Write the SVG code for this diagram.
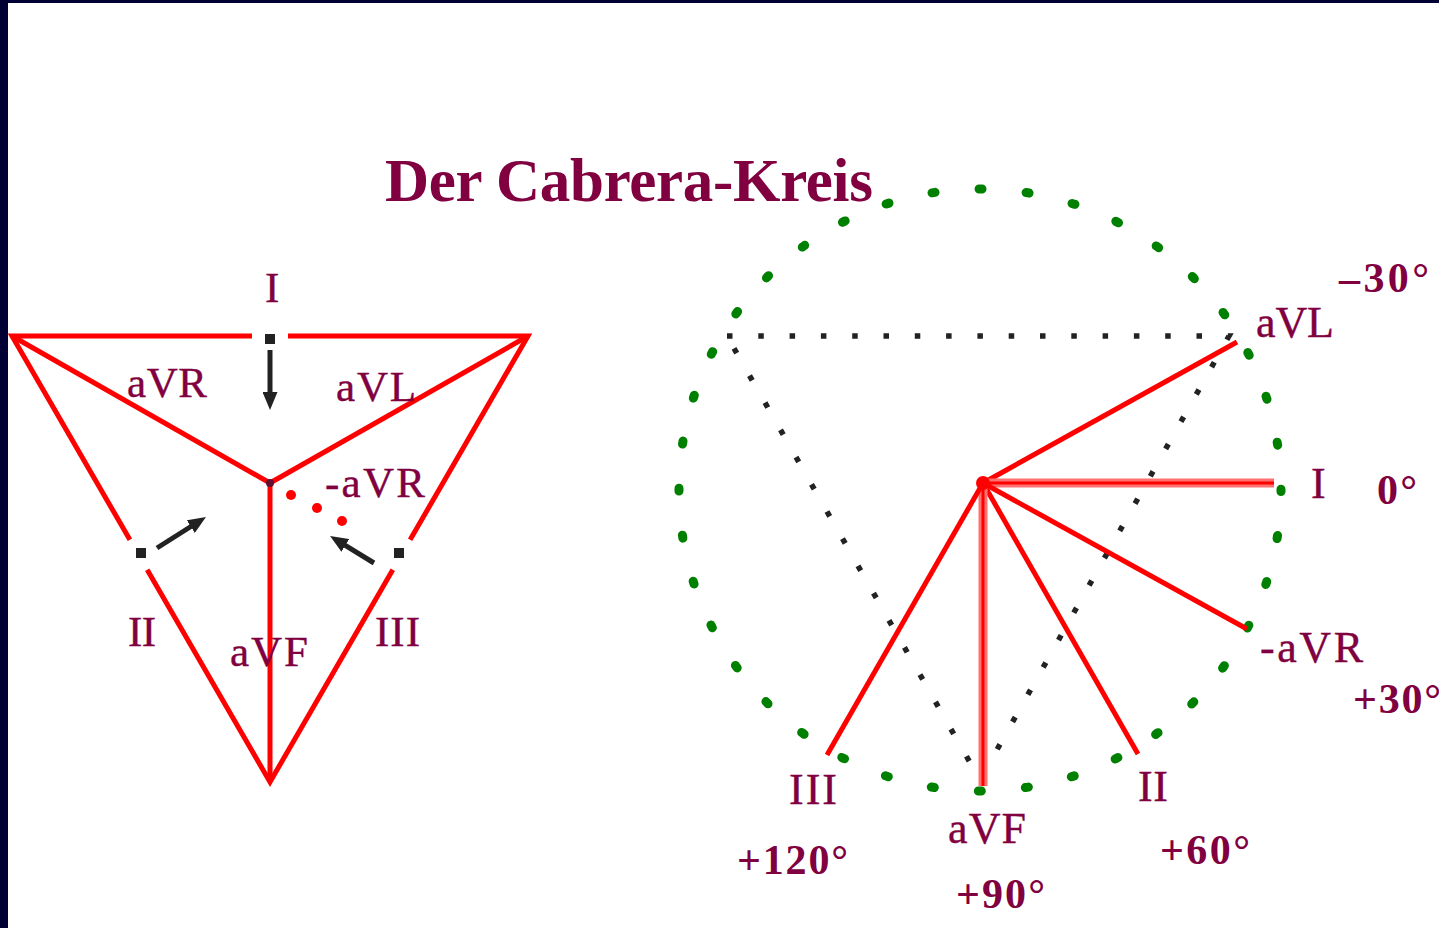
<svg xmlns="http://www.w3.org/2000/svg" width="1439" height="928" viewBox="0 0 1439 928">
<defs>
<style>
.lbl{font-family:"Liberation Serif","Times New Roman",serif;font-size:43px;fill:#800040;stroke:#800040;stroke-width:0.4}
.lblr{font-family:"Liberation Serif","Times New Roman",serif;font-size:44px;fill:#800040;stroke:#800040;stroke-width:0.4}
.deg{font-family:"Liberation Serif","Times New Roman",serif;font-size:42px;font-weight:bold;fill:#800040}
.title{font-family:"Liberation Serif","Times New Roman",serif;font-size:61px;font-weight:bold;fill:#800040}
.red{stroke:#ff0000;stroke-width:5;fill:none;stroke-linejoin:miter}
.dray{stroke:#ff7070;stroke-width:9;fill:none}
.dcore{stroke:#ff0000;stroke-width:3;fill:none}
.blk{fill:#222222}
.arrow{stroke:#222222;stroke-width:5;fill:none}
.rdot{fill:#ff0000}
.green{stroke:#008000;stroke-width:9;fill:none;stroke-linecap:round}
.bdots{stroke:#222222;stroke-width:5.5;fill:none}
</style>
<marker id="ah" viewBox="0 0 12 10" refX="2" refY="5" markerWidth="3.6" markerHeight="3" orient="auto" markerUnits="strokeWidth">
<path d="M0,0 L12,5 L0,10 z" fill="#222222"/>
</marker>
</defs>
<rect x="0" y="0" width="1439" height="928" fill="#ffffff"/>
<rect x="0" y="0" width="1439" height="3" fill="#000035"/>
<rect x="0" y="0" width="8" height="928" fill="#000035"/>

<g id="title">
<text class="title" x="385" y="201" textLength="488">Der Cabrera-Kreis</text>
</g>

<g id="einthoven-triangle">
<g id="tri-edges">
<polyline class="red" points="252,336 12,336 129.9,539.8"/>
<polyline class="red" points="288,336 528,336 410.1,539.8"/>
<polyline class="red" points="147.2,569.7 270,782 392.8,569.7"/>
</g>
<g id="tri-axes">
<line class="red" x1="12" y1="336" x2="270" y2="483"/>
<line class="red" x1="528" y1="336" x2="270" y2="483"/>
<line class="red" x1="270" y1="483" x2="270" y2="782"/>
<circle cx="270" cy="483" r="4" fill="#601030"/>
<circle class="rdot" cx="291" cy="495" r="5"/>
<circle class="rdot" cx="317" cy="508" r="5"/>
<circle class="rdot" cx="342" cy="521" r="5"/>
</g>
<g id="tri-electrodes">
<rect class="blk" x="265" y="334" width="10" height="10"/>
<rect class="blk" x="136" y="548" width="10" height="10"/>
<rect class="blk" x="394" y="548" width="10" height="10"/>
</g>
<g id="tri-labels">
<text class="lbl" x="265" y="302" textLength="13">I</text>
<text class="lbl" x="127" y="397" textLength="80">aVR</text>
<text class="lbl" x="336" y="401" textLength="80">aVL</text>
<text class="lbl" x="325" y="497" textLength="100">-aVR</text>
<text class="lbl" x="128" y="646" textLength="28">II</text>
<text class="lbl" x="230" y="666" textLength="78">aVF</text>
<text class="lbl" x="375" y="646" textLength="45">III</text>
</g>
</g>

<g id="connectors">
<line class="arrow" x1="270" y1="350" x2="270" y2="395" marker-end="url(#ah)"/>
<line class="arrow" x1="157" y1="548" x2="193.3" y2="525" marker-end="url(#ah)"/>
<line class="arrow" x1="374" y1="563" x2="342.8" y2="543.8" marker-end="url(#ah)"/>
</g>

<g id="cabrera-circle">
<circle id="circle-dots" class="green" cx="980" cy="490" r="301" stroke-dasharray="3 44.28" stroke-dashoffset="1.5"/>
<path id="dotted-triangle" class="bdots" d="M727,336 L1229,336 L980,780 Z" stroke-dasharray="5.5 25.8"/>
<g id="rays">
<line class="red" x1="983" y1="483" x2="1237" y2="342"/>
<line class="dray" x1="983" y1="483" x2="1274" y2="483"/>
<line class="dcore" x1="983" y1="483" x2="1274" y2="483"/>
<line class="red" x1="983" y1="483" x2="1247" y2="629"/>
<line class="red" x1="983" y1="483" x2="1138" y2="754"/>
<line class="dray" x1="983" y1="483" x2="983" y2="786"/>
<line class="dcore" x1="983" y1="483" x2="983" y2="786"/>
<line class="red" x1="983" y1="483" x2="827" y2="755"/>
<circle cx="983" cy="483" r="7" fill="#ff0000"/>
</g>
<g id="ray-labels">
<text class="lblr" x="1256" y="337" textLength="78">aVL</text>
<text class="lblr" x="1311" y="498" textLength="13">I</text>
<text class="lblr" x="1260" y="662" textLength="103">-aVR</text>
<text class="lblr" x="1138" y="801" textLength="30">II</text>
<text class="lblr" x="789" y="804" textLength="48">III</text>
<text class="lblr" x="948" y="843" textLength="78">aVF</text>
</g>
<g id="angle-labels">
<text class="deg" x="1339" y="292" textLength="90">–30°</text>
<text class="deg" x="1377" y="504" textLength="40">0°</text>
<text class="deg" x="1353" y="713" textLength="88">+30°</text>
<text class="deg" x="1160" y="864" textLength="90">+60°</text>
<text class="deg" x="956" y="908" textLength="89">+90°</text>
<text class="deg" x="737" y="874" textLength="111">+120°</text>
</g>
</g>
</svg>
